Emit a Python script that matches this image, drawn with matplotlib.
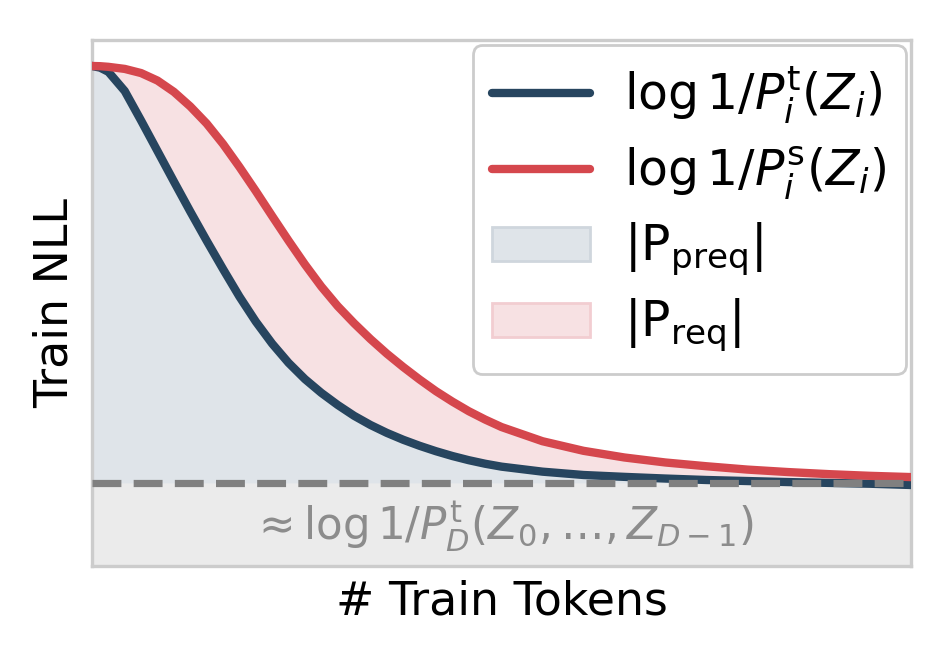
import numpy as np
import matplotlib
matplotlib.use("Agg")
import matplotlib.pyplot as plt
from matplotlib.patches import Patch
from matplotlib.lines import Line2D

# values (x: fraction of train tokens, y: NLL above the floor)
tokens = [0, 0.01, 0.02, 0.04, 0.06, 0.08, 0.10, 0.12, 0.14, 0.16, 0.18, 0.20, 0.22, 0.24,
          0.26, 0.28, 0.30, 0.32, 0.34, 0.36, 0.38, 0.40, 0.42, 0.44, 0.46, 0.48, 0.50,
          0.55, 0.60, 0.65, 0.70, 0.75, 0.80, 0.85, 0.90, 0.95, 1.0]
nll_teacher = [1.0, 0.996, 0.986, 0.940, 0.869, 0.796, 0.723, 0.651, 0.581, 0.513, 0.447,
               0.387, 0.334, 0.288, 0.249, 0.216, 0.187, 0.161, 0.139, 0.120, 0.1035,
               0.089, 0.076, 0.0645, 0.0545, 0.046, 0.039, 0.027, 0.019, 0.0145, 0.0105,
               0.007, 0.0045, 0.002, 0.0, -0.002, -0.005]
nll_student = [1.0, 0.9995, 0.998, 0.993, 0.983, 0.965, 0.938, 0.903, 0.862, 0.813, 0.758,
               0.700, 0.640, 0.581, 0.524, 0.471, 0.424, 0.383, 0.345, 0.310, 0.278,
               0.248, 0.220, 0.195, 0.172, 0.152, 0.134, 0.100, 0.077, 0.061, 0.049,
               0.040, 0.032, 0.026, 0.021, 0.017, 0.014]
floor = 0.0

blue = "#27455f"
red = "#d5474d"

fig = plt.figure(figsize=(4.76, 3.29), dpi=200)
ax = fig.add_axes([0.0966, 0.140, 0.8604, 0.799])

ax.axhspan(-0.3, floor, color="#ebebeb", lw=0, zorder=0)
ax.fill_between(tokens, floor, nll_teacher, color="#dfe4e9", lw=0, zorder=1)
ax.fill_between(tokens, nll_teacher, nll_student, color="#f7e1e3", lw=0, zorder=1)
ax.plot(tokens, nll_teacher, color=blue, lw=3, solid_joinstyle="round", zorder=3)
ax.plot(tokens, nll_student, color=red, lw=3, solid_joinstyle="round", zorder=3)
ax.axhline(floor, color="#808080", lw=2.6, ls=(0, (4, 1.7)), zorder=4)

ax.text(0.5, -0.105, r"$\approx \log 1/P_D^{\rm t}(Z_0, \ldots, Z_{D-1})$",
        color="#8c8c8c", fontsize=15.7, ha="center", va="center")

ax.set_xlim(0, 1)
ax.set_ylim(-0.199, 1.062)
ax.set_xticks([])
ax.set_yticks([])
for s in ax.spines.values():
    s.set_color("#cccccc")
    s.set_linewidth(1.2)
ax.set_xlabel("# Train Tokens", fontsize=16.5, labelpad=5)
ax.set_ylabel("Train NLL", fontsize=16.5, labelpad=5)

handles = [
    Line2D([], [], color=blue, lw=3, solid_capstyle="round"),
    Line2D([], [], color=red, lw=3, solid_capstyle="round"),
    Patch(facecolor="#dfe4e9", edgecolor="#cfd6dd"),
    Patch(facecolor="#f7e1e3", edgecolor="#f2cdd1"),
]
labels = [r"$\log 1/P_i^{\rm t}(Z_i)$", r"$\log 1/P_i^{\rm s}(Z_i)$",
          r"$|\mathrm{P}_{\rm preq}|$", r"$|\mathrm{P}_{\rm req}|$"]
leg = ax.legend(handles, labels, loc="upper right", fontsize=17.6, framealpha=1,
                edgecolor="#cccccc", borderaxespad=0.1, handlelength=2.0,
                handletextpad=0.7, labelspacing=0.39)
leg.get_frame().set_linewidth(1.0)

fig.savefig("out.png", dpi=200)
